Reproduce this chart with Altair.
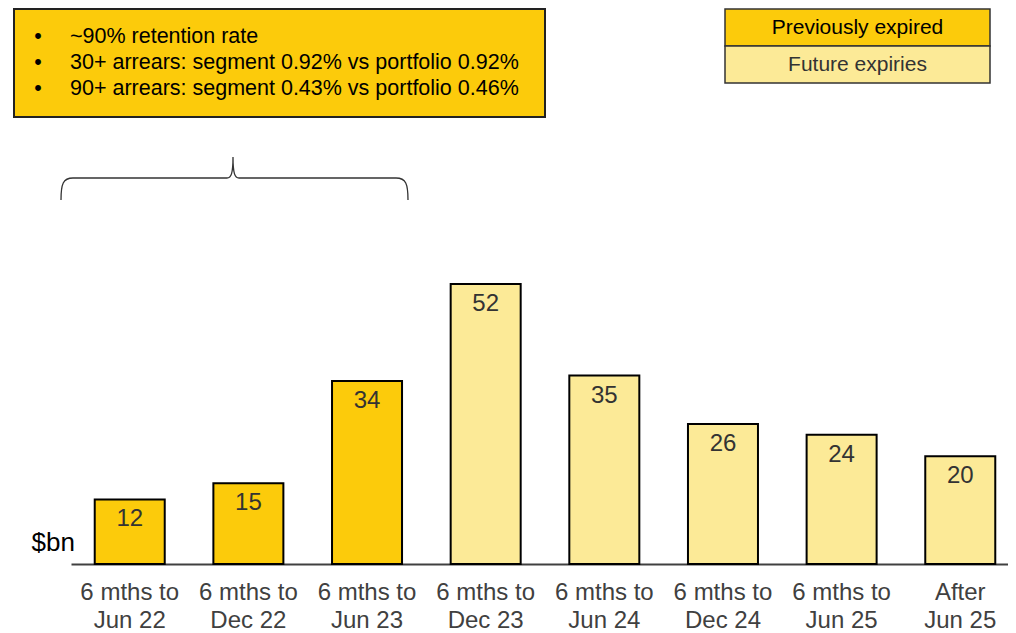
import altair as alt
import pandas as pd

categories = ["6 mths to\nJun 22", "6 mths to\nDec 22", "6 mths to\nJun 23", "6 mths to\nDec 23",
              "6 mths to\nJun 24", "6 mths to\nDec 24", "6 mths to\nJun 25", "After\nJun 25"]
values = [12, 15, 34, 52, 35, 26, 24, 20]
status = ["Previously expired", "Previously expired", "Previously expired", "Future expiries",
          "Future expiries", "Future expiries", "Future expiries", "Future expiries"]
legend_labels = ["Previously expired", "Future expiries"]
colors = ["#FCCB0B", "#FCEA97"]
bullets = ["~90% retention rate",
           "30+ arrears: segment 0.92% vs portfolio 0.92%",
           "90+ arrears: segment 0.43% vs portfolio 0.46%"]
unit_label = "$bn"

FONT = "Liberation Sans"

df = pd.DataFrame({"period": categories, "value": values, "status": status})
one = pd.DataFrame({"k": [0]})

xenc = alt.X("period:N", sort=categories,
             scale=alt.Scale(range=[63, 1011], paddingInner=0.41, paddingOuter=0.2),
             axis=alt.Axis(title=None, labelAngle=0, labelExpr="split(datum.label, '\\n')",
                           labelFontSize=24, labelFont=FONT, labelColor="#404040",
                           labelLineHeight=28, labelPadding=16, ticks=False,
                           domainColor="#404040", domainWidth=2))
yenc = alt.Y("value:Q", scale=alt.Scale(domain=[0, 103.25], nice=False), axis=None)

base = alt.Chart(df)
bars = base.mark_bar(stroke="black", strokeWidth=2).encode(
    x=xenc, y=yenc,
    color=alt.Color("status:N", scale=alt.Scale(domain=legend_labels, range=colors), legend=None))
vals = base.mark_text(baseline="top", dy=8, fontSize=24, font=FONT, color="#333333").encode(
    x=xenc, y=yenc, text="value:Q")

layers = [bars, vals]

# unit label
layers.append(alt.Chart(one).mark_text(align="right", baseline="middle", fontSize=26, font=FONT,
                                        color="black", text=unit_label)
              .encode(x=alt.value(67), y=alt.value(535)))

# text box
layers.append(alt.Chart(one).mark_rect(fill=colors[0], stroke="#222222", strokeWidth=2)
              .encode(x=alt.value(6), x2=alt.value(537), y=alt.value(1), y2=alt.value(109)))
for i, b in enumerate(bullets):
    yy = 29 + 26 * i
    layers.append(alt.Chart(one).mark_text(align="center", baseline="middle", fontSize=21.5, font=FONT,
                                            color="black", text="•")
                  .encode(x=alt.value(30), y=alt.value(yy)))
    layers.append(alt.Chart(one).mark_text(align="left", baseline="middle", fontSize=21.5, font=FONT,
                                            color="black", text=b)
                  .encode(x=alt.value(62), y=alt.value(yy)))

# legend box
text_colors = ["black", "#333333"]
for i, (lab, col) in enumerate(zip(legend_labels, colors)):
    y0 = 1 + 37 * i
    layers.append(alt.Chart(one).mark_rect(fill=col, stroke="#333333", strokeWidth=1.5)
                  .encode(x=alt.value(717), x2=alt.value(982), y=alt.value(y0), y2=alt.value(y0 + 37)))
    layers.append(alt.Chart(one).mark_text(align="center", baseline="middle", fontSize=21, font=FONT,
                                            color=text_colors[i], text=lab)
                  .encode(x=alt.value(849.5), y=alt.value(y0 + 18.5)))

# brace
brace_path = ("M -172 22 C -172 6 -170 0 -160 0 L -6 0 C -2 0 0 -4 0 -21 "
              "C 0 -4 2 0 6 0 L 163 0 C 173 0 175 6 175 22")
layers.append(alt.Chart(one).mark_point(shape=brace_path, size=4, filled=False, stroke="#333333",
                                         strokeWidth=1.3, opacity=1)
              .encode(x=alt.value(225), y=alt.value(170)))

chart = alt.layer(*layers).properties(
    width=1000, height=556,
    autosize=alt.AutoSizeParams(type="none"),
    padding={"left": 0, "top": 0, "right": 0, "bottom": 67},
).configure_view(stroke=None)

chart.save("out.html", embed_options={"renderer": "svg", "actions": False})
